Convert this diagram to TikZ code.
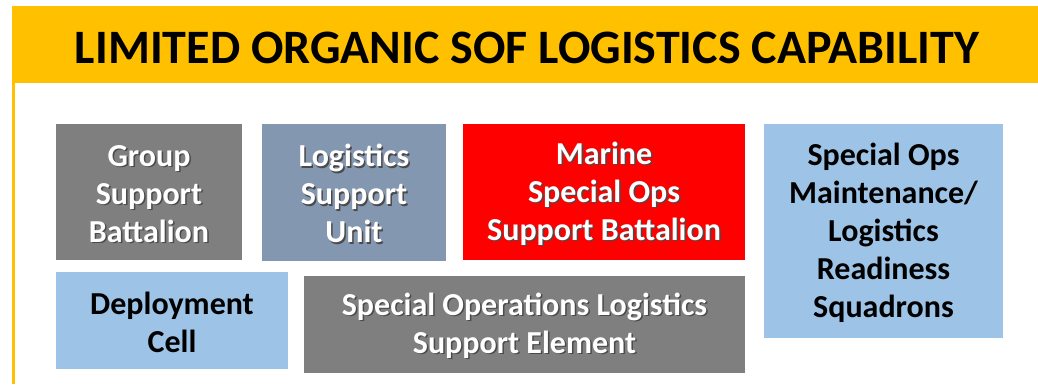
\documentclass[tikz,border=0pt]{standalone}
\usepackage{fontspec}
\setmainfont{Carlito}
\definecolor{hdr}{HTML}{FFC000}
\definecolor{grayb}{HTML}{7F7F7F}
\definecolor{steelb}{HTML}{8497B0}
\definecolor{redb}{HTML}{FF0000}
\definecolor{lightb}{HTML}{9DC3E6}
\definecolor{shade}{HTML}{4A4A4A}
\newcommand\sh[1]{\makebox[0pt][l]{\hspace{1.5pt}\raisebox{-1.5pt}{\color{shade}#1}}#1}
\begin{document}
\begin{tikzpicture}[x=1pt,y=-1pt,
  box/.style={draw=none,inner sep=0pt,align=center,font=\fontsize{32}{38}\selectfont\bfseries},
  whitetxt/.style={text=white},
  blacktxt/.style={text=black}]
\useasboundingbox (0,0) rectangle (1038,384);
\fill[white] (0,0) rectangle (1038,384);
% header
\fill[hdr] (12,6) rectangle (1038,83);
\fill[hdr] (12,83) rectangle (14.5,384);
\node[font=\fontsize{48}{52}\selectfont\bfseries,text=black,inner sep=0pt] (title) at (527,47.5) {LIMITED ORGANIC SOF LOGISTICS CAPABILITY};
% boxes
\fill[grayb] (56,124) rectangle (242,259.5);
\node[box,whitetxt] (gsb) at (149,194.5) {\sh{Group}\\\sh{Support}\\\sh{Battalion}};
\fill[steelb] (262,124) rectangle (446,261);
\node[box,whitetxt] (lsu) at (354,194.5) {\sh{Logistics}\\\sh{Support}\\\sh{Unit}};
\fill[redb] (463,124) rectangle (745,260);
\node[box,whitetxt] (msob) at (604,194.5) {\sh{Marine}\\\sh{Special Ops}\\\sh{Support Battalion}};
\fill[lightb] (764,124) rectangle (1003,338);
\node[box,blacktxt] (somlrs) at (883.5,232.5) {Special Ops\\Maintenance/\\Logistics\\Readiness\\Squadrons};
\fill[lightb] (56,272) rectangle (288,369);
\node[box,blacktxt] (dc) at (172,322.5) {Deployment\\Cell};
\fill[grayb] (304,276) rectangle (745,372.5);
\node[box,whitetxt] (sole) at (524.5,326.5) {\sh{Special Operations Logistics}\\\sh{Support Element}};
\end{tikzpicture}
\end{document}
